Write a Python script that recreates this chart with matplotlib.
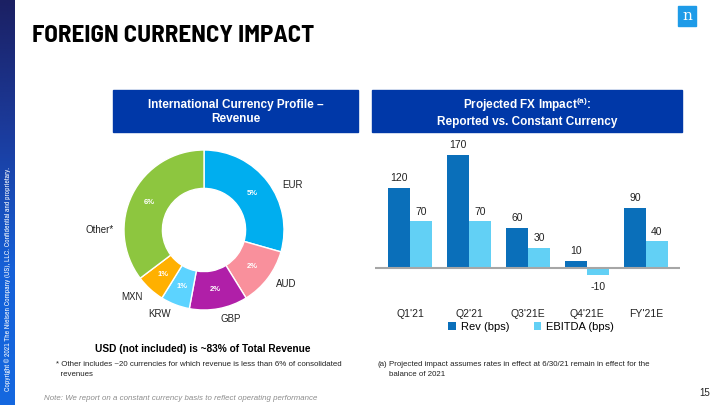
import numpy as np
import matplotlib
matplotlib.use("Agg")
import matplotlib.pyplot as plt
from matplotlib.patches import Rectangle

plt.rcParams['font.family'] = ['Liberation Sans', 'DejaVu Sans']
TITLE_FONT = ['Liberation Sans Narrow', 'Arial Narrow', 'Barlow Semi Condensed', 'Liberation Sans']
NARROW = ['Liberation Sans Narrow', 'Arial Narrow', 'Archivo Narrow', 'Liberation Sans']

# donut data (share of revenue, %)
currencies = ['EUR', 'AUD', 'GBP', 'KRW', 'MXN', 'Other*']
shares = [5, 2, 2, 1, 1, 6]
donut_colors = ['#00AEEF', '#F9909C', '#B01FA8', '#5CD3FF', '#FFB000', '#8DC63F']

# bar data (bps)
periods = ["Q1'21", "Q2'21", "Q3'21E", "Q4'21E", "FY'21E"]
rev_bps = [120, 170, 60, 10, 90]
ebitda_bps = [70, 70, 30, -10, 40]

W, H = 720, 405
fig = plt.figure(figsize=(7.2, 4.05), dpi=100)


def fx(px):
    return px / W


def fy(py):
    return 1 - py / H


def box(x0, y0, x1, y1):
    # pixel box (top-left origin) -> figure rect
    return [fx(x0), fy(y1), fx(x1) - fx(x0), fy(y0) - fy(y1)]


# left sidebar gradient
side = fig.add_axes(box(0, 0, 15, 405))
grad = np.linspace(0, 1, 256).reshape(-1, 1)
cmap = matplotlib.colors.LinearSegmentedColormap.from_list(
    'side', ['#1B2063', '#1B3C9E', '#1560D8', '#1468E0'])
side.imshow(grad, aspect='auto', cmap=cmap, extent=[0, 1, 0, 1])
side.axis('off')
side.text(0.5, 0.31, 'Copyright © 2021 The Nielsen Company (US), LLC. Confidential and proprietary.',
          rotation=90, color='white', fontsize=5.4, ha='center', va='center',
          family=NARROW, transform=side.transAxes)

# logo
fig.patches.append(Rectangle((fx(678), fy(26)), fx(18), fy(6) - fy(26),
                             transform=fig.transFigure, color='#1E9BE8'))
fig.text(fx(687), fy(16), 'n', color='white', fontsize=11, family='DejaVu Serif',
         ha='center', va='center')

# title
fig.text(fx(32), fy(36), 'FOREIGN CURRENCY IMPACT', fontsize=18, fontweight='bold',
         family=TITLE_FONT, va='center', ha='left')

# header boxes
for (x0, x1), label in [((113, 358), 'International Currency Profile –\nRevenue'),
                        ((372, 682), 'Projected FX Impact$^{\\mathregular{(a)}}$:\nReported vs. Constant Currency')]:
    fig.patches.append(Rectangle((fx(x0), fy(132)), fx(x1 - x0), fy(90) - fy(132),
                                 transform=fig.transFigure, color='#0038A8'))
    fig.text(fx((x0 + x1) / 2), fy(112), label, color='white', fontsize=8.5,
             fontweight='bold', ha='center', va='center', linespacing=1.3)

# donut
cx, cy, r = 204, 230, 80
dax = fig.add_axes(box(cx - 100, cy - 100, cx + 100, cy + 100))
wedges, _ = dax.pie(shares, colors=donut_colors, startangle=90, counterclock=False,
                    radius=1, wedgeprops=dict(width=0.48, edgecolor='white', linewidth=1))
dax.set_xlim(-1.25, 1.25)
dax.set_ylim(-1.25, 1.25)
dax.set_aspect('equal')
dax.axis('off')
for w, name, s in zip(wedges, currencies, shares):
    mid = np.deg2rad((w.theta1 + w.theta2) / 2)
    dax.text(0.76 * np.cos(mid), 0.76 * np.sin(mid), f'{s}%', color='white',
             fontsize=5.5, fontweight='bold', ha='center', va='center')
    ang = mid if name != 'Other*' else np.pi
    if name == 'EUR':
        ang = np.deg2rad(30)
    lx, ly = 1.13 * np.cos(ang), 1.13 * np.sin(ang)
    ha = 'left' if lx > 0.2 else ('right' if lx < -0.2 else 'center')
    dax.text(lx, ly, name, fontsize=7, ha=ha, va='center', color='#222222')

# bar chart
x0_px, x1_px, zero_px, scale = 375, 680, 268, 0.665
ymin, ymax = -25, 185
bax = fig.add_axes(box(x0_px, zero_px - ymax * scale, x1_px, zero_px - ymin * scale))
x = np.arange(len(periods))
bw = 0.37
b1 = bax.bar(x - bw / 2, rev_bps, bw, color='#0A6FBA', label='Rev (bps)')
b2 = bax.bar(x + bw / 2, ebitda_bps, bw, color='#62D0F5', label='EBITDA (bps)')
for bars in (b1, b2):
    for b in bars:
        v = b.get_height()
        bax.annotate(f'{v:g}', (b.get_x() + b.get_width() / 2, v),
                     xytext=(0, 3.5 if v >= 0 else -5), textcoords='offset points',
                     ha='center', va='bottom' if v >= 0 else 'top', fontsize=7.5,
                     color='#222222')
bax.axhline(0, color='#A6A6A6', lw=1.5)
bax.set_xlim(-35 / 59, (x1_px - 410) / 59)
bax.set_ylim(ymin, ymax)
bax.set_xticks(x)
bax.set_xticklabels(periods, fontsize=7.5, color='#222222')
bax.tick_params(axis='x', length=0, pad=17.5)
bax.set_yticks([])
for s in bax.spines.values():
    s.set_visible(False)
bax.legend(loc='center', bbox_to_anchor=(fx(531), fy(327)), bbox_transform=fig.transFigure,
           ncol=2, frameon=False, fontsize=8, handlelength=0.7, handleheight=0.7,
           columnspacing=2.2, handletextpad=0.4)

# texts at the bottom
fig.text(fx(203), fy(349), 'USD (not included) is ~83% of Total Revenue', fontsize=7.3,
         fontweight='bold', ha='center', va='center')
fig.text(fx(56), fy(361), '* Other includes ~20 currencies for which revenue is less than 6% of consolidated\n  revenues',
         fontsize=5.7, ha='left', va='top', linespacing=1.5, color='#222222')
fig.text(fx(377), fy(361), '(a)', fontsize=5.7, ha='left', va='top', color='#222222')
fig.text(fx(389), fy(361), 'Projected impact assumes rates in effect at 6/30/21 remain in effect for the\nbalance of 2021',
         fontsize=5.7, ha='left', va='top', linespacing=1.5, color='#222222')
fig.text(fx(44), fy(398), 'Note: We report on a constant currency basis to reflect operating performance',
         fontsize=5.7, style='italic', color='#8C8C8C', ha='left', va='center')
fig.text(fx(705), fy(393), '15', fontsize=7, ha='center', va='center', color='#222222')

fig.savefig('out.png', dpi=100)
